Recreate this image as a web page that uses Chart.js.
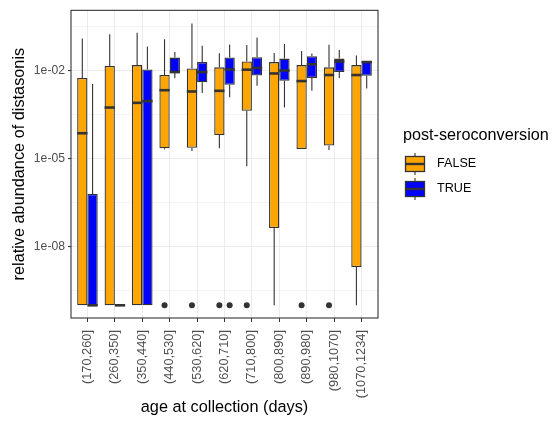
<!DOCTYPE html>
<html>
<head>
<meta charset="utf-8">
<script src="https://cdn.jsdelivr.net/npm/chart.js@4.4.1/dist/chart.umd.min.js"></script>
<style>
  body { margin: 0; background: #fff; }
</style>
</head>
<body>
<canvas id="myChart" width="553" height="421"></canvas>
<script>
// age bins on the x axis
const ageGroups = ["(170,260]", "(260,350]", "(350,440]", "(440,530]", "(530,620]", "(620,710]",
                   "(710,800]", "(800,890]", "(890,980]", "(980,1070]", "(1070,1234]"];

// post-seroconversion = FALSE (orange)
const falseLow    = [1e-10, 1e-10, 1e-10, 2.0e-5, 1.8e-5, 2.2e-5, 5.4e-6, 1e-10, 2.1e-5, 1.95e-5, 1e-10];
const falseQ1     = [1e-10, 1e-10, 1e-10, 2.2e-5, 2.3e-5, 6.3e-5, 4.2e-4, 4.3e-8, 2.1e-5, 2.75e-5, 2.0e-9];
const falseMedian = [7.2e-5, 5.4e-4, 7.8e-4, 2.1e-3, 1.9e-3, 2.0e-3, 1.05e-2, 7.8e-3, 4.3e-3, 6.9e-3, 6.9e-3];
const falseQ3     = [5.5e-3, 1.4e-2, 1.5e-2, 6.9e-3, 1.15e-2, 1.26e-2, 2.0e-2, 1.9e-2, 1.5e-2, 1.26e-2, 1.5e-2];
const falseHigh   = [1.2e-1, 1.7e-1, 1.9e-1, 1.15e-1, 3.9e-1, 3.8e-2, 7.2e-2, 3.9e-2, 4.5e-2, 7.4e-2, 3.2e-2];
const falseOutliers = [[], [], [], [1e-10], [1e-10], [1e-10], [1e-10], [], [1e-10], [1e-10], []];

// post-seroconversion = TRUE (blue)
const trueLow    = [1e-10, 1e-10, 1e-10, 5.4e-3, 1.7e-3, 1.2e-3, 3.0e-3, 5.4e-4, 2.0e-3, 5.5e-3, 2.4e-3];
const trueQ1     = [1e-10, 1e-10, 1e-10, 8.3e-3, 3.9e-3, 3.2e-3, 6.6e-3, 4.4e-3, 5.5e-3, 8.7e-3, 6.5e-3];
const trueMedian = [1e-10, 1e-10, 8.9e-4, 8.7e-3, 8.7e-3, 1.07e-2, 1.2e-2, 9.8e-3, 1.6e-2, 2.0e-2, 1.9e-2];
const trueQ3     = [6.2e-7, 1e-10, 1.07e-2, 2.7e-2, 1.9e-2, 2.75e-2, 2.8e-2, 2.5e-2, 3.0e-2, 2.5e-2, 2.1e-2];
const trueHigh   = [3.4e-3, 1e-10, 6.5e-2, 4.2e-2, 6.9e-2, 7.6e-2, 1.3e-1, 7.8e-2, 3.7e-2, 4.9e-2, 2.1e-2];
const trueOutliers = [[], [], [], [], [], [1e-10], [], [], [], [], []];

// y axis ticks
const yMajorTicks  = [1e-8, 1e-5, 1e-2];
const yMajorLabels = ["1e-08", "1e-05", "1e-02"];
const yMinorTicks  = [3.162e-10, 3.162e-7, 3.162e-4, 3.162e-1];

const seriesNames = ["FALSE", "TRUE"];
const seriesColors = ["#FFA500", "#0000FF"];

const FONT = "'Liberation Sans', Arial, Helvetica, sans-serif";
const EDGE = "#333333";

const boxStats = [
  { low: falseLow, q1: falseQ1, med: falseMedian, q3: falseQ3, high: falseHigh, out: falseOutliers },
  { low: trueLow,  q1: trueQ1,  med: trueMedian,  q3: trueQ3,  high: trueHigh,  out: trueOutliers }
];

// whiskers behind, medians + outliers on top, then border + legend
const boxPlugin = {
  id: 'boxExtras',
  beforeDatasetsDraw(chart) {
    const ctx = chart.ctx, y = chart.scales.y;
    ctx.save();
    ctx.strokeStyle = EDGE;
    ctx.lineWidth = 1.1;
    boxStats.forEach((s, d) => {
      chart.getDatasetMeta(d).data.forEach((bar, i) => {
        ctx.beginPath();
        ctx.moveTo(bar.x, y.getPixelForValue(s.q3[i]));
        ctx.lineTo(bar.x, y.getPixelForValue(s.high[i]));
        ctx.moveTo(bar.x, y.getPixelForValue(s.q1[i]));
        ctx.lineTo(bar.x, y.getPixelForValue(s.low[i]));
        ctx.stroke();
      });
    });
    ctx.restore();
  },
  afterDatasetsDraw(chart) {
    const ctx = chart.ctx, y = chart.scales.y;
    ctx.save();
    boxStats.forEach((s, d) => {
      chart.getDatasetMeta(d).data.forEach((bar, i) => {
        const half = bar.width / 2;
        const py = y.getPixelForValue(s.med[i]);
        ctx.strokeStyle = EDGE;
        ctx.lineWidth = 2.6;
        ctx.beginPath();
        ctx.moveTo(bar.x - half, py);
        ctx.lineTo(bar.x + half, py);
        ctx.stroke();
        ctx.fillStyle = EDGE;
        s.out[i].forEach(v => {
          ctx.beginPath();
          ctx.arc(bar.x, y.getPixelForValue(v), 3, 0, Math.PI * 2);
          ctx.fill();
        });
      });
    });
    ctx.restore();
  },
  afterDraw(chart) {
    const ctx = chart.ctx, a = chart.chartArea;
    ctx.save();
    ctx.strokeStyle = EDGE;
    ctx.lineWidth = 1.1;
    ctx.strokeRect(a.left, a.top, a.right - a.left, a.bottom - a.top);

    // legend
    ctx.fillStyle = '#000';
    ctx.font = '16.2px ' + FONT;
    ctx.textBaseline = 'middle';
    ctx.fillText('post-seroconversion', 403, 136);
    seriesNames.forEach((name, k) => {
      const cy = 164 + k * 25;
      ctx.strokeStyle = EDGE;
      ctx.lineWidth = 1.1;
      ctx.beginPath();
      ctx.moveTo(415, cy - 11);
      ctx.lineTo(415, cy + 11);
      ctx.stroke();
      ctx.fillStyle = seriesColors[k];
      ctx.fillRect(405.5, cy - 7.5, 19, 15);
      ctx.lineWidth = 1.3;
      ctx.strokeRect(405.5, cy - 7.5, 19, 15);
      ctx.lineWidth = 2.4;
      ctx.beginPath();
      ctx.moveTo(405.5, cy);
      ctx.lineTo(424.5, cy);
      ctx.stroke();
      ctx.fillStyle = '#000';
      ctx.font = '12.6px ' + FONT;
      ctx.fillText(name, 437, cy);
    });
    ctx.restore();
  }
};

const datasets = boxStats.map((s, d) => ({
  label: seriesNames[d],
  data: ageGroups.map((g, i) => ({ x: i, y: [s.q1[i], s.q3[i]] })),
  backgroundColor: seriesColors[d],
  borderColor: EDGE,
  borderWidth: 1.3,
  borderSkipped: false,
  categoryPercentage: 0.75,
  barPercentage: 1
}));

const ctx = document.getElementById('myChart').getContext('2d');
const myChart = new Chart(ctx, {
  type: 'bar',
  data: { datasets: datasets },
  plugins: [boxPlugin],
  options: {
    responsive: false,
    animation: false,
    layout: { padding: { left: 10, right: 175, top: 10, bottom: 0 } },
    plugins: { legend: { display: false }, tooltip: { enabled: false } },
    scales: {
      x: {
        type: 'linear',
        offset: false,
        min: -0.6,
        max: 10.6,
        afterBuildTicks: axis => { axis.ticks = ageGroups.map((g, i) => ({ value: i })); },
        afterFit: axis => { axis.height = 103; },
        ticks: {
          callback: v => ageGroups[v],
          minRotation: 90,
          maxRotation: 90,
          autoSkip: false,
          padding: 8,
          color: '#4D4D4D',
          font: { family: FONT, size: 12.8 }
        },
        grid: { offset: false, color: '#EBEBEB', lineWidth: 1, tickColor: EDGE, tickLength: 4 },
        border: { display: false },
        title: {
          display: true,
          text: 'age at collection (days)',
          color: '#000',
          font: { family: FONT, size: 16.3 },
          padding: { top: 4, bottom: 4 }
        }
      },
      y: {
        type: 'logarithmic',
        min: 3.7e-11,
        max: 1.1,
        afterBuildTicks: axis => {
          axis.ticks = yMinorTicks.concat(yMajorTicks).sort((p, q) => p - q).map(v => ({ value: v }));
        },
        afterFit: axis => { axis.width = 61; },
        ticks: {
          callback: v => {
            const k = yMajorTicks.indexOf(v);
            return k >= 0 ? yMajorLabels[k] : '';
          },
          padding: 3,
          color: '#4D4D4D',
          font: { family: FONT, size: 12.2 }
        },
        grid: {
          color: '#EBEBEB',
          lineWidth: c => (yMajorTicks.indexOf(c.tick && c.tick.value) >= 0 ? 1.1 : 0.55),
          tickColor: c => (yMajorTicks.indexOf(c.tick && c.tick.value) >= 0 ? EDGE : 'rgba(0,0,0,0)'),
          tickLength: 3
        },
        border: { display: false },
        title: {
          display: true,
          text: 'relative abundance of distasonis',
          color: '#000',
          font: { family: FONT, size: 16.3 },
          padding: { top: 0, bottom: 4 }
        }
      }
    }
  }
});
</script>
</body>
</html>
